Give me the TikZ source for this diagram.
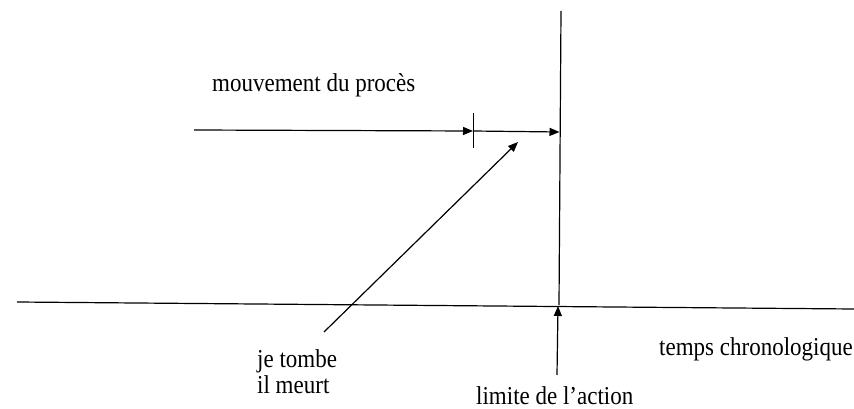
\documentclass[tikz,border=0pt]{standalone}
\usepackage{fontspec}
\usepackage{graphicx}
\setmainfont{Liberation Serif}
\usetikzlibrary{arrows.meta}
\tikzset{
  ln/.style={line width=1.2pt, line cap=butt},
  arr/.style={ln, -{Triangle[length=10pt,width=8pt]}},
  lbl/.style={anchor=base west, inner sep=0pt, font=\fontsize{23}{26}\selectfont}
}
\newcommand{\stretchtxt}[1]{\scalebox{1}[1.12]{#1}}
\begin{document}
\begin{tikzpicture}[x=1pt,y=-1pt]
\useasboundingbox (0,0) rectangle (854,409);
% coordinates
\coordinate (vtop) at (561,11);
\coordinate (vaxis) at (559,305);
\coordinate (axL) at (17,302);
\coordinate (axR) at (854,309);
\coordinate (mvS) at (194,130);
\coordinate (mvT) at (473,131);
\coordinate (mvE) at (559.5,132);
\coordinate (tkT) at (473,113);
\coordinate (tkB) at (473,148);
\coordinate (dgS) at (324,332);
\coordinate (dgE) at (518,142);
\coordinate (limS) at (557,375);
\coordinate (limE) at (558,306);
% lines
\draw[ln] (vtop) -- (vaxis);
\draw[ln] (axL) -- (axR);
\draw[arr] (mvS) -- (mvT);
\draw[arr] (mvT) -- (mvE);
\draw[line width=1pt] (tkT) -- (tkB);
\draw[arr] (dgS) -- (dgE);
\draw[arr] (limS) -- (limE);
% labels
\node[lbl] (mouv) at (212,92) {\stretchtxt{mouvement du procès}};
\node[lbl] (temps) at (659,355) {\stretchtxt{temps chronologique}};
\node[lbl] (je) at (257,367) {\stretchtxt{je tombe}};
\node[lbl] (il) at (257,393) {\stretchtxt{il meurt}};
\node[lbl] (lim) at (476,404) {\stretchtxt{limite de l’action}};
\end{tikzpicture}
\end{document}
